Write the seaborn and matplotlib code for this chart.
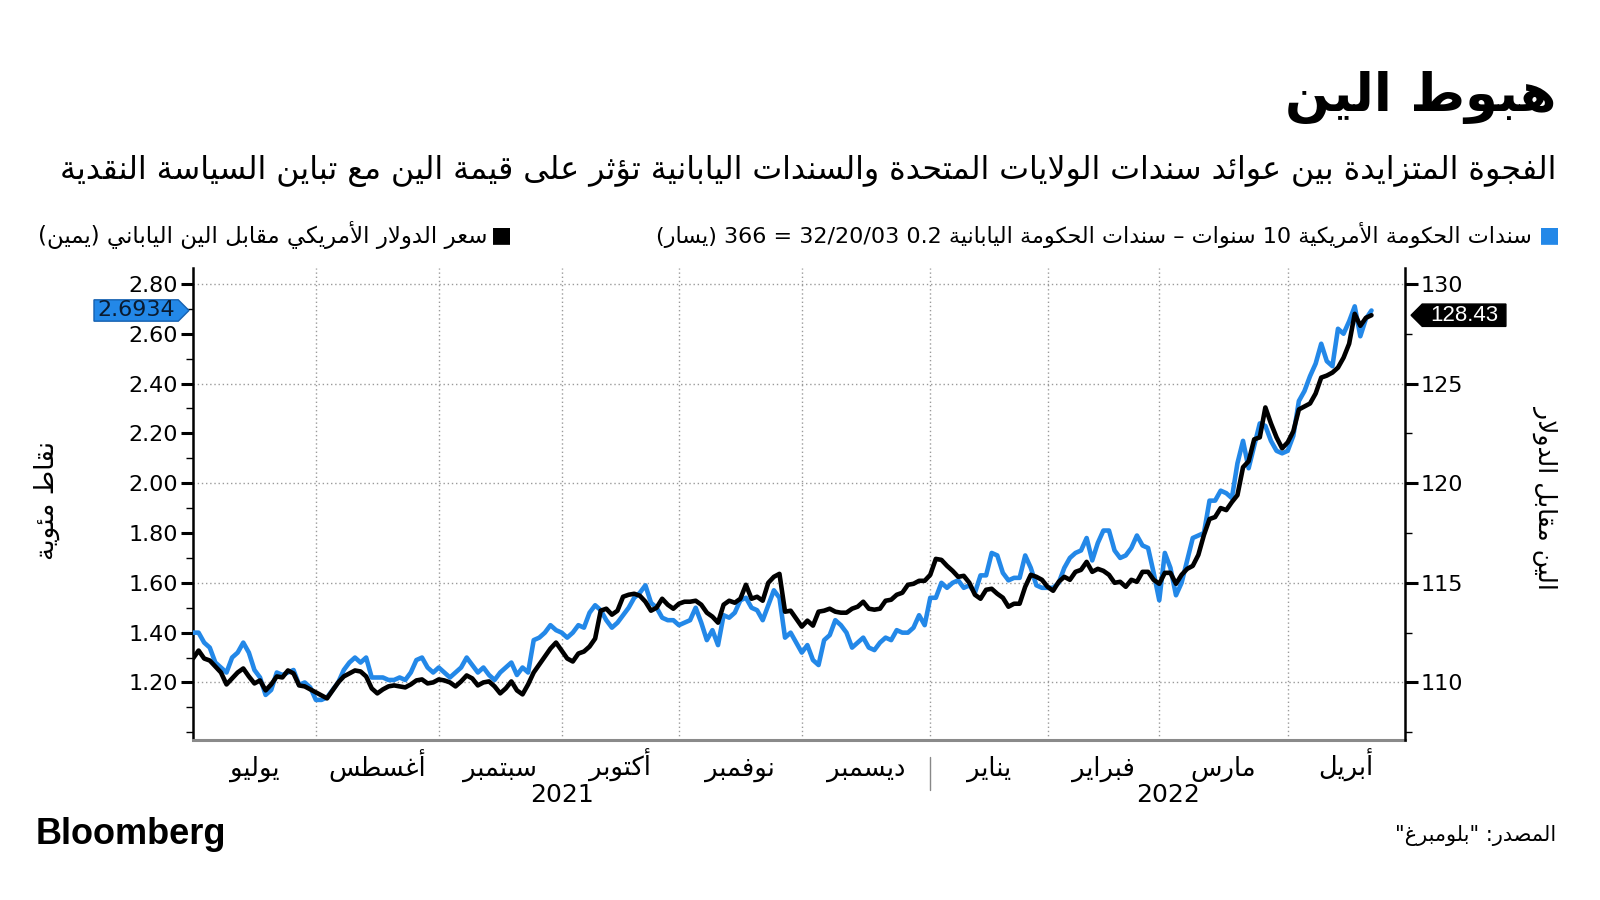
import re
import numpy as np
import pandas as pd
import matplotlib
matplotlib.use("Agg")
import matplotlib.pyplot as plt
import matplotlib.ticker as mticker
import matplotlib.transforms as mtransforms
from matplotlib.path import Path
import seaborn as sns

# values, one per business day from 1 Jul 2021 to 22 Apr 2022
start_date = "2021-07-01"
axis_end = "2022-04-29"

# US 10y - JGB 10y spread, percentage points (left axis)
spread = [
    1.40, 1.40, 1.36, 1.34, 1.28, 1.26, 1.24, 1.30, 1.32, 1.36,
    1.32, 1.25, 1.22, 1.15, 1.17, 1.24, 1.23, 1.24, 1.25, 1.19,
    1.20, 1.18, 1.13, 1.13, 1.14, 1.17, 1.20, 1.25, 1.28, 1.30,
    1.28, 1.30, 1.22, 1.22, 1.22, 1.21, 1.21, 1.22, 1.21, 1.24,
    1.29, 1.30, 1.26, 1.24, 1.26, 1.24, 1.22, 1.24, 1.26, 1.30,
    1.27, 1.24, 1.26, 1.23, 1.21, 1.24, 1.26, 1.28, 1.23, 1.26,
    1.24, 1.37, 1.38, 1.40, 1.43, 1.41, 1.40, 1.38, 1.40, 1.43,
    1.42, 1.48, 1.51, 1.49, 1.45, 1.42, 1.44, 1.47, 1.50, 1.54,
    1.56, 1.59, 1.52, 1.50, 1.46, 1.45, 1.45, 1.43, 1.44, 1.45,
    1.50, 1.44, 1.37, 1.41, 1.35, 1.47, 1.46, 1.48, 1.53, 1.54,
    1.50, 1.49, 1.45, 1.51, 1.57, 1.54, 1.38, 1.40, 1.36, 1.32,
    1.35, 1.29, 1.27, 1.37, 1.39, 1.45, 1.43, 1.40, 1.34, 1.36,
    1.38, 1.34, 1.33, 1.36, 1.38, 1.37, 1.41, 1.40, 1.40, 1.42,
    1.47, 1.43, 1.54, 1.54, 1.60, 1.58, 1.60, 1.61, 1.58, 1.59,
    1.56, 1.63, 1.63, 1.72, 1.71, 1.64, 1.61, 1.62, 1.62, 1.71,
    1.66, 1.59, 1.58, 1.58, 1.58, 1.60, 1.66, 1.70, 1.72, 1.73,
    1.78, 1.69, 1.76, 1.81, 1.81, 1.73, 1.70, 1.71, 1.74, 1.79,
    1.75, 1.74, 1.64, 1.53, 1.72, 1.66, 1.55, 1.60, 1.69, 1.78,
    1.79, 1.80, 1.93, 1.93, 1.97, 1.96, 1.94, 2.08, 2.17, 2.06,
    2.15, 2.24, 2.23, 2.17, 2.13, 2.12, 2.13, 2.19, 2.33, 2.37,
    2.43, 2.48, 2.56, 2.49, 2.47, 2.62, 2.60, 2.65, 2.71, 2.59,
    2.66, 2.6934,
]

# USD/JPY (right axis)
usdjpy = [
    111.2, 111.6, 111.2, 111.1, 110.8, 110.5, 109.9, 110.2, 110.5, 110.7,
    110.3, 109.95, 110.1, 109.6, 109.9, 110.3, 110.25, 110.6, 110.45, 109.85,
    109.8, 109.65, 109.5, 109.35, 109.2, 109.6, 110.0, 110.3, 110.45, 110.6,
    110.55, 110.3, 109.7, 109.45, 109.65, 109.8, 109.85, 109.8, 109.75, 109.9,
    110.1, 110.15, 109.95, 110.0, 110.15, 110.1, 110.0, 109.8, 110.05, 110.35,
    110.2, 109.85, 110.0, 110.05, 109.8, 109.45, 109.7, 110.05, 109.6, 109.4,
    109.9, 110.5, 110.9, 111.3, 111.7, 112.0, 111.6, 111.2, 111.05, 111.45,
    111.55, 111.8, 112.2, 113.6, 113.7, 113.4, 113.6, 114.3, 114.4, 114.45,
    114.35, 114.05, 113.6, 113.75, 114.2, 113.9, 113.7, 113.95, 114.05, 114.05,
    114.1, 113.9, 113.5, 113.3, 113.0, 113.9, 114.1, 114.0, 114.2, 114.9,
    114.2, 114.3, 114.1, 115.0, 115.3, 115.45, 113.55, 113.6, 113.2, 112.8,
    113.1, 112.85, 113.55, 113.6, 113.7, 113.55, 113.5, 113.5, 113.7, 113.8,
    114.05, 113.7, 113.65, 113.7, 114.1, 114.15, 114.4, 114.5, 114.9, 114.95,
    115.1, 115.1, 115.4, 116.2, 116.15, 115.85, 115.6, 115.3, 115.35, 115.0,
    114.4, 114.2, 114.65, 114.7, 114.45, 114.25, 113.8, 113.95, 113.95, 114.8,
    115.4, 115.3, 115.15, 114.8, 114.6, 115.05, 115.3, 115.15, 115.55, 115.65,
    116.05, 115.55, 115.7, 115.6, 115.4, 115.0, 115.05, 114.8, 115.15, 115.05,
    115.55, 115.55, 115.15, 114.95, 115.5, 115.5, 114.95, 115.4, 115.7, 115.85,
    116.4, 117.4, 118.2, 118.3, 118.75, 118.65, 119.05, 119.4, 120.8, 121.1,
    122.2, 122.3, 123.8, 123.0, 122.3, 121.75, 122.05, 122.6, 123.7, 123.85,
    124.0, 124.5, 125.3, 125.4, 125.55, 125.8, 126.3, 127.0, 128.5, 127.9,
    128.3, 128.43,
]

months = ["يوليو", "أغسطس", "سبتمبر", "أكتوبر", "نوفمبر", "ديسمبر",
          "يناير", "فبراير", "مارس", "أبريل"]
years = ["2021", "2022"]

title = "هبوط الين"
subtitle = ("الفجوة المتزايدة بين عوائد سندات الولايات المتحدة والسندات اليابانية "
            "تؤثر على قيمة الين مع تباين السياسة النقدية")
legend_spread = "سندات الحكومة الأمريكية 10 سنوات – سندات الحكومة اليابانية 0.2 32/20/03 = 366 (يسار)"
legend_usdjpy = "سعر الدولار الأمريكي مقابل الين الياباني (يمين)"
left_label = "نقاط مئوية"
right_label = "الين مقابل الدولار"
source = 'المصدر: "بلومبرغ"'

BLUE = "#2388e8"

# ---- minimal Arabic shaping + right-to-left ordering (matplotlib has no bidi)
_DUAL = dict(zip("ئبتثجحخسشصضطظعغفقكلمنهي",
                 [0xFE89, 0xFE8F, 0xFE95, 0xFE99, 0xFE9D, 0xFEA1, 0xFEA5, 0xFEB1,
                  0xFEB5, 0xFEB9, 0xFEBD, 0xFEC1, 0xFEC5, 0xFEC9, 0xFECD, 0xFED1,
                  0xFED5, 0xFED9, 0xFEDD, 0xFEE1, 0xFEE5, 0xFEE9, 0xFEF1]))
_RIGHT = dict(zip("آأؤإاةدذرزوى",
                  [0xFE81, 0xFE83, 0xFE85, 0xFE87, 0xFE8D, 0xFE93, 0xFEA9, 0xFEAB,
                   0xFEAD, 0xFEAF, 0xFEED, 0xFEEF]))
_LAM_ALEF = {"آ": 0xFEF5, "أ": 0xFEF7, "إ": 0xFEF9, "ا": 0xFEFB}


def shape(text):
    out, joined, i = [], False, 0
    while i < len(text):
        c = text[i]
        nxt = text[i + 1] if i + 1 < len(text) else ""
        if c == "ل" and nxt in _LAM_ALEF:
            out.append(chr(_LAM_ALEF[nxt] + joined))
            joined = False
            i += 2
            continue
        if c in _DUAL:
            links = nxt in _DUAL or nxt in _RIGHT
            form = (0, 2, 1, 3)[joined * 2 + links]
            out.append(chr(_DUAL[c] + form))
            joined = True
        elif c in _RIGHT:
            out.append(chr(_RIGHT[c] + joined))
            joined = False
        elif c == "ء":
            out.append(chr(0xFE80))
            joined = False
        else:
            out.append(c)
            joined = False
        i += 1
    return "".join(out)


def ar(text):
    parts = re.findall(r"[0-9A-Za-z./]+|[^0-9A-Za-z./]+", shape(text))
    mirror = str.maketrans("()", ")(")
    vis = []
    for p in reversed(parts):
        if re.match(r"[0-9A-Za-z./]", p):
            vis.append(p)
        else:
            vis.append(p[::-1].translate(mirror))
    return "".join(vis)


def tag_right(x0, y0, width, height, mutation_size):
    px, py = 0.15 * mutation_size, 0.03 * mutation_size
    x0, y0, x1, y1 = x0 - px, y0 - py, x0 + width + px, y0 + height + py
    tip = (y1 - y0) / 2
    return Path([(x0, y0), (x1, y0), (x1 + tip, y0 + tip), (x1, y1), (x0, y1), (x0, y0)], closed=True)


def tag_left(x0, y0, width, height, mutation_size):
    px, py = 0.35 * mutation_size, 0.03 * mutation_size
    x0, y0, x1, y1 = x0 - px, y0 - py, x0 + width + px, y0 + height + py
    tip = (y1 - y0) / 2
    return Path([(x0, y0), (x1, y0), (x1, y1), (x0, y1), (x0 - tip, y0 + tip), (x0, y0)], closed=True)


# ---- data frame on a business-day axis
axis_days = pd.bdate_range(start_date, axis_end)
df = pd.DataFrame({"day": np.arange(len(spread)), "spread": spread, "usdjpy": usdjpy})

bounds = [i for i, d in enumerate(axis_days) if i == 0 or d.month != axis_days[i - 1].month]
bounds.append(len(axis_days))
month_centers = [(a + b) / 2 for a, b in zip(bounds[:-1], bounds[1:])]
year_starts = [i for i, d in enumerate(axis_days) if i == 0 or d.year != axis_days[i - 1].year]
year_starts.append(len(axis_days))
year_centers = [(a + b) / 2 for a, b in zip(year_starts[:-1], year_starts[1:])]

sns.set_style("white")
plt.rcParams["font.family"] = ["DejaVu Sans"]
for key in ("text.color", "axes.labelcolor", "xtick.color", "ytick.color"):
    plt.rcParams[key] = "black"

fig = plt.figure(figsize=(16, 9), dpi=100)
ax = fig.add_axes([193 / 1600, 1 - 740 / 900, (1405 - 193) / 1600, (740 - 268) / 900])
ax2 = ax.twinx()

for v in np.arange(1.2, 2.81, 0.4):
    ax.axhline(v, color="#9a9a9a", lw=1, ls=(0, (1, 2)), zorder=0)
for b in bounds[1:-1]:
    ax.axvline(b, color="#9a9a9a", lw=1, ls=(0, (1, 2)), zorder=0)

sns.lineplot(data=df, x="day", y="spread", ax=ax, color=BLUE, linewidth=3.3, zorder=3)
sns.lineplot(data=df, x="day", y="usdjpy", ax=ax2, color="black", linewidth=3.3, zorder=3)

ax.set_xlim(0, len(axis_days))
ax.set_ylim(0.969, 2.864)
ax2.set_ylim(107.11, 130.80)
for a in (ax, ax2):
    a.set_xlabel("")
    a.set_ylabel("")

# x axis: month boundaries as ticks, names centred in each month
ax.set_xticks(bounds)
ax.set_xticklabels([""] * len(bounds))
ax.set_xticks(month_centers, minor=True)
ax.set_xticklabels([ar(m) for m in months], minor=True, fontsize=18.5, va="baseline")
ax.tick_params(axis="x", which="major", direction="out", length=6, width=1, color="#888888")
ax.tick_params(axis="x", which="minor", length=0, pad=26)
for yr, xc in zip(years, year_centers):
    ax.annotate(yr, xy=(xc, 0), xycoords=("data", "axes fraction"), xytext=(0, -31),
                textcoords="offset points", ha="center", va="top", fontsize=18,
                annotation_clip=False)
ax.axvline(year_starts[1], ymin=-0.105, ymax=-0.035, color="#888888", lw=1, clip_on=False)

# y axes
ax.yaxis.set_major_locator(mticker.FixedLocator(np.round(np.arange(1.2, 2.81, 0.2), 2)))
ax.yaxis.set_major_formatter(mticker.FormatStrFormatter("%.2f"))
ax.yaxis.set_minor_locator(mticker.MultipleLocator(0.1))
ax.tick_params(axis="y", which="major", direction="out", length=9, width=2.2, labelsize=16, pad=2)
ax.tick_params(axis="y", which="minor", direction="out", length=5, width=1)
ax2.yaxis.set_major_locator(mticker.MultipleLocator(5))
ax2.yaxis.set_minor_locator(mticker.MultipleLocator(2.5))
ax2.tick_params(axis="y", which="major", direction="out", length=9, width=2.2, labelsize=16, pad=2)
ax2.tick_params(axis="y", which="minor", direction="out", length=5, width=1)

for a in (ax, ax2):
    a.spines["top"].set_visible(False)
ax.spines["left"].set_color("black")
ax.spines["left"].set_linewidth(1.8)
ax2.spines["right"].set_color("black")
ax2.spines["right"].set_linewidth(1.8)
ax2.spines["left"].set_visible(False)
ax2.spines["bottom"].set_visible(False)
ax.spines["right"].set_visible(False)
ax.spines["bottom"].set_color("#8a8a8a")
ax.spines["bottom"].set_linewidth(2.2)

# last-value tags
blend_l = mtransforms.blended_transform_factory(ax.transAxes, ax.transData)
ax.annotate(f"{spread[-1]:.4f}", xy=(0, spread[-1]), xycoords=blend_l, xytext=(-13, 0),
            textcoords="offset points", ha="right", va="center", fontsize=16, color="#0a1b30",
            bbox=dict(boxstyle=tag_right, fc=BLUE, ec="#1560b0", lw=1), annotation_clip=False)
blend_r = mtransforms.blended_transform_factory(ax2.transAxes, ax2.transData)
ax2.annotate(f"{usdjpy[-1]:.2f}", xy=(1, usdjpy[-1]), xycoords=blend_r, xytext=(18, 0),
             textcoords="offset points", ha="left", va="center", fontsize=16, color="white",
             family="Liberation Sans",
             bbox=dict(boxstyle=tag_left, fc="black", ec="black", lw=1), annotation_clip=False)

# titles, legend, labels, footer
fig.text(1556 / 1600, 1 - 97 / 900, ar(title), ha="right", va="center", fontsize=38, fontweight="bold")
fig.text(1556 / 1600, 1 - 171 / 900, ar(subtitle), ha="right", va="center", fontsize=22.8)

fig.text(1549 / 1600, 1 - 235 / 900, "■", ha="center", va="center", fontsize=16, color=BLUE)
fig.text(1532 / 1600, 1 - 235 / 900, ar(legend_spread), ha="right", va="center", fontsize=16)
fig.text(501 / 1600, 1 - 235 / 900, "■", ha="center", va="center", fontsize=16, color="black")
fig.text(487 / 1600, 1 - 235 / 900, ar(legend_usdjpy), ha="right", va="center", fontsize=16.5)

fig.text(47 / 1600, 1 - 500 / 900, ar(left_label), rotation=90, ha="center", va="center", fontsize=19)
fig.text(1546 / 1600, 1 - 497 / 900, ar(right_label), rotation=270, ha="center", va="center", fontsize=18)

fig.text(36 / 1600, 1 - 835 / 900, "Bloomberg", ha="left", va="center", fontsize=26,
         fontweight="bold", family="Liberation Sans")
fig.text(1556 / 1600, 1 - 835 / 900, ar(source), ha="right", va="center", fontsize=15)

fig.savefig("out.png", dpi=100)
